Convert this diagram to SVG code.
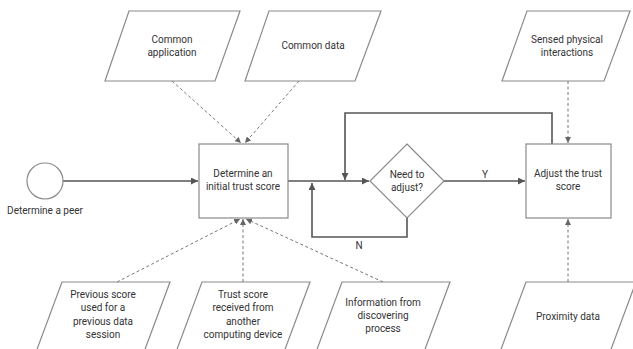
<svg xmlns="http://www.w3.org/2000/svg" width="633" height="349" viewBox="0 0 633 349">
<style>
  .shape{fill:#fff;stroke:#8a8a8a;stroke-width:1.2}
  .t{font-family:Roboto,"Liberation Sans",sans-serif;font-size:10px;fill:#333;text-anchor:middle}
  .solid{fill:none;stroke:#555;stroke-width:1.6}
  .dash{fill:none;stroke:#777;stroke-width:1;stroke-dasharray:3,2.5}
</style>
<defs>
  <marker id="a" viewBox="0 0 10 10" refX="10" refY="5" markerWidth="7" markerHeight="7" markerUnits="userSpaceOnUse" orient="auto">
    <path d="M0,0 L10,5 L0,10 z" fill="#555"/>
  </marker>
  <marker id="ad" viewBox="0 0 10 10" refX="10" refY="5" markerWidth="6" markerHeight="6" markerUnits="userSpaceOnUse" orient="auto">
    <path d="M0,0 L10,5 L0,10 z" fill="#666"/>
  </marker>
</defs>
<rect width="633" height="349" fill="#fff"/>

<g id="connectors">
  <line class="solid" x1="63" y1="181" x2="198" y2="181" marker-end="url(#a)"/>
  <line class="solid" x1="288" y1="181" x2="369" y2="181" marker-end="url(#a)"/>
  <line class="solid" x1="444" y1="181" x2="525" y2="181" marker-end="url(#a)"/>
  <polyline class="solid" points="407,218 407,237 312,237 312,183" marker-end="url(#a)"/>
  <polyline class="solid" points="552,144 552,113 345,113 345,180" marker-end="url(#a)"/>
  <line class="dash" x1="172" y1="81" x2="241" y2="143" marker-end="url(#ad)"/>
  <line class="dash" x1="299" y1="81" x2="245" y2="143" marker-end="url(#ad)"/>
  <line class="dash" x1="568" y1="81" x2="568" y2="143" marker-end="url(#ad)"/>
  <line class="dash" x1="117" y1="282" x2="240" y2="219" marker-end="url(#ad)"/>
  <line class="dash" x1="243" y1="282" x2="243" y2="219" marker-end="url(#ad)"/>
  <line class="dash" x1="383" y1="282" x2="246" y2="219" marker-end="url(#ad)"/>
  <line class="dash" x1="568" y1="282" x2="568" y2="219" marker-end="url(#ad)"/>
  <text class="t" x="485" y="178">Y</text>
  <text class="t" x="359" y="249">N</text>
</g>

<g id="peer">
  <circle class="shape" cx="45" cy="181" r="18"/>
  <text class="t" x="45" y="214">Determine a peer</text>
</g>
<g id="common-app">
  <polygon class="shape" points="129,11 240,11 215,81 105,81"/>
  <text class="t" x="172" y="43">Common</text>
  <text class="t" x="172" y="56">application</text>
</g>
<g id="common-data">
  <polygon class="shape" points="269,11 381,11 355,81 245,81"/>
  <text class="t" x="313" y="49">Common data</text>
</g>
<g id="sensed">
  <polygon class="shape" points="527,11 630,11 604,81 502,81"/>
  <text class="t" x="567" y="43">Sensed physical</text>
  <text class="t" x="567" y="56">interactions</text>
</g>
<g id="initial">
  <rect class="shape" x="199" y="144" width="89" height="74"/>
  <text class="t" x="243" y="177">Determine an</text>
  <text class="t" x="243" y="190">initial trust score</text>
</g>
<g id="need">
  <polygon class="shape" points="407,144 444,181 407,218 370,181"/>
  <text class="t" x="407" y="178">Need to</text>
  <text class="t" x="407" y="191">adjust?</text>
</g>
<g id="adjust">
  <rect class="shape" x="526" y="144" width="85" height="74"/>
  <text class="t" x="568" y="177">Adjust the trust</text>
  <text class="t" x="568" y="190">score</text>
</g>
<g id="previous">
  <polygon class="shape" points="62,282 170,282 144,352 36,352"/>
  <text class="t" x="103" y="298">Previous score</text>
  <text class="t" x="103" y="311">used for a</text>
  <text class="t" x="103" y="325">previous data</text>
  <text class="t" x="103" y="338">session</text>
</g>
<g id="received">
  <polygon class="shape" points="202,282 310,282 284,352 176,352"/>
  <text class="t" x="243" y="298">Trust score</text>
  <text class="t" x="243" y="311">received from</text>
  <text class="t" x="243" y="325">another</text>
  <text class="t" x="243" y="338">computing device</text>
</g>
<g id="discovering">
  <polygon class="shape" points="342,282 450,282 424,352 316,352"/>
  <text class="t" x="383" y="306">Information from</text>
  <text class="t" x="383" y="319">discovering</text>
  <text class="t" x="383" y="332">process</text>
</g>
<g id="proximity">
  <polygon class="shape" points="526,282 636,282 610,352 500,352"/>
  <text class="t" x="568" y="320">Proximity data</text>
</g>
</svg>
